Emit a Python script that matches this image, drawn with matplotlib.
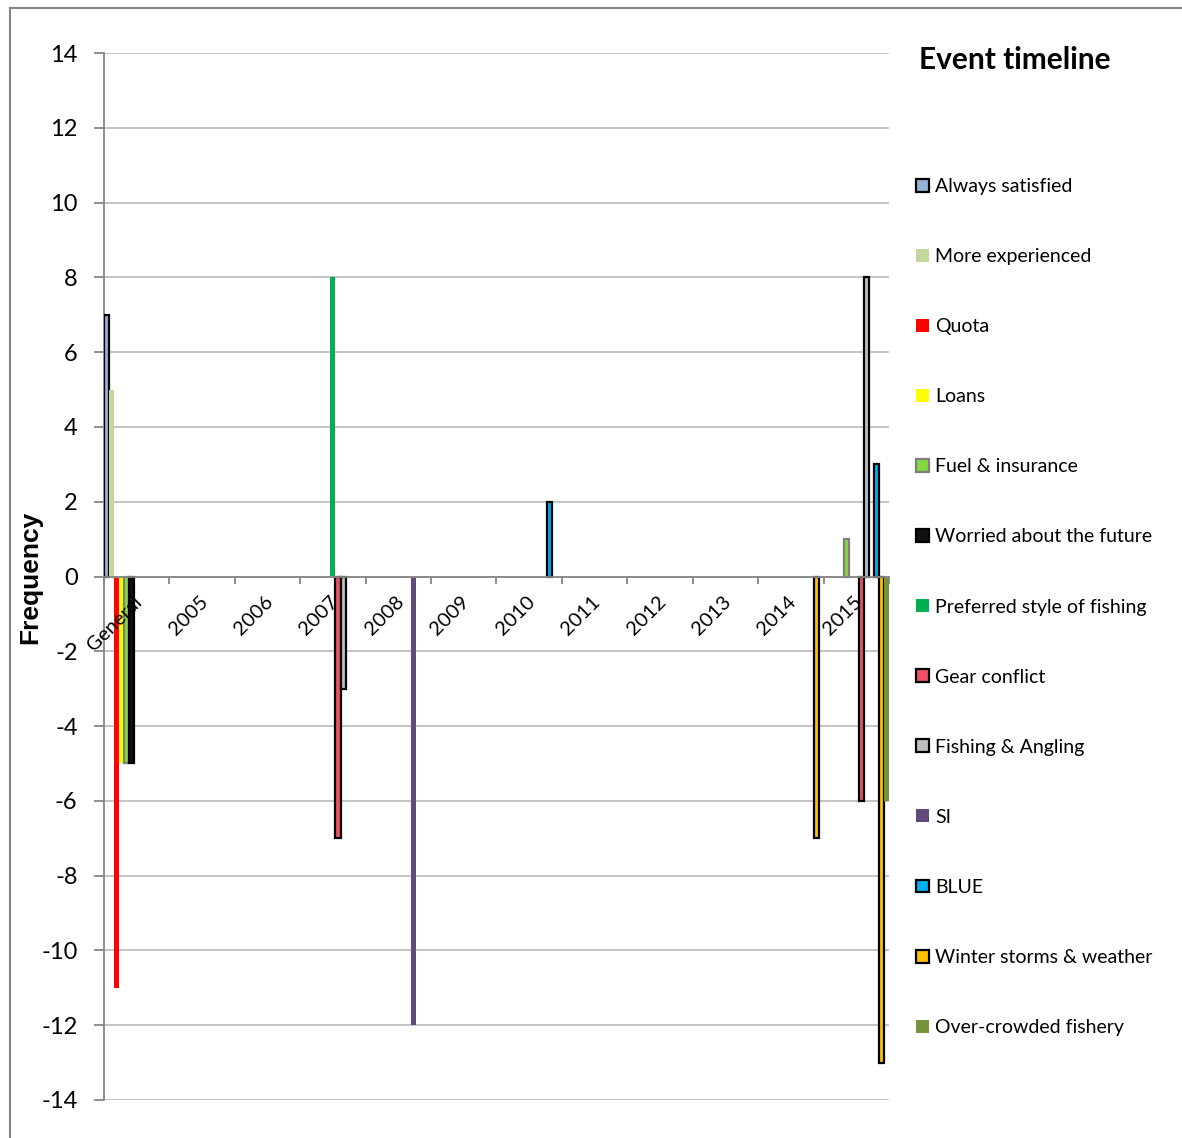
import numpy as np
import matplotlib
matplotlib.use("Agg")
import matplotlib.pyplot as plt
import matplotlib.transforms as mtransforms
from matplotlib.patches import Patch
from matplotlib.lines import Line2D

plt.rcParams['font.family'] = ['Lato', 'DejaVu Sans']

categories = ["General", "2005", "2006", "2007", "2008", "2009", "2010",
              "2011", "2012", "2013", "2014", "2015"]

always_satisfied   = [7, 0, 0, 0, 0, 0, 0, 0, 0, 0, 0, 0]
more_experienced   = [5, 0, 0, 0, 0, 0, 0, 0, 0, 0, 0, 0]
quota              = [-11, 0, 0, 0, 0, 0, 0, 0, 0, 0, 0, 0]
loans              = [-5, 0, 0, 0, 0, 0, 0, 0, 0, 0, 0, 0]
fuel_insurance     = [-5, 0, 0, 0, 0, 0, 0, 0, 0, 0, 0, 1]
worried_future     = [-5, 0, 0, 0, 0, 0, 0, 0, 0, 0, 0, 0]
preferred_style    = [0, 0, 0, 8, 0, 0, 0, 0, 0, 0, 0, 0]
gear_conflict      = [0, 0, 0, -7, 0, 0, 0, 0, 0, 0, 0, -6]
fishing_angling    = [0, 0, 0, -3, 0, 0, 0, 0, 0, 0, 0, 8]
si                 = [0, 0, 0, 0, -12, 0, 0, 0, 0, 0, 0, 0]
blue               = [0, 0, 0, 0, 0, 0, 2, 0, 0, 0, 0, 3]
winter_storms      = [0, 0, 0, 0, 0, 0, 0, 0, 0, 0, -7, -13]
over_crowded       = [0, 0, 0, 0, 0, 0, 0, 0, 0, 0, 0, -6]

series_names = ["Always satisfied", "More experienced", "Quota", "Loans",
                "Fuel & insurance", "Worried about the future",
                "Preferred style of fishing", "Gear conflict",
                "Fishing & Angling", "SI", "BLUE", "Winter storms & weather",
                "Over-crowded fishery"]
series_values = [always_satisfied, more_experienced, quota, loans,
                 fuel_insurance, worried_future, preferred_style,
                 gear_conflict, fishing_angling, si, blue, winter_storms,
                 over_crowded]
face_colors = ["#95B3D7", "#C3D69B", "#FF0000", "#FFFF00", "#84D93F",
               "#111111", "#00B050", "#EE5068", "#BFBFBF", "#604A7B",
               "#00B0F0", "#FFC000", "#77933C"]
edge_colors = ["#000000", None, None, None, "#7F7F7F", "#000000", None,
               "#000000", "#000000", None, "#000000", "#000000", None]

y_ticks = list(range(-14, 15, 2))

W, H = 1182, 1138
fig = plt.figure(figsize=(W / 100, H / 100), dpi=100)
ax = fig.add_axes([104 / W, 1 - 1100 / H, (889 - 104) / W, (1100 - 53) / H])

n = len(series_names)
bw = 1.0 / n
x = np.arange(len(categories))
for i, (vals, fc, ec) in enumerate(zip(series_values, face_colors, edge_colors)):
    vals = np.asarray(vals, dtype=float)
    mask = vals != 0
    xs = x[mask] - 0.5 + (i + 0.5) * bw
    ax.bar(xs, vals[mask], width=bw, color=fc,
           edgecolor=ec if ec else fc, linewidth=1.6 if ec else 0,
           zorder=3)

ax.set_xlim(-0.5, len(categories) - 0.5)
ax.set_ylim(-14, 14)
ax.set_yticks(y_ticks)
ax.set_yticklabels([str(v) if v >= 0 else "-" + str(-v) for v in y_ticks])
ax.yaxis.grid(True, color="#BFBFBF", linewidth=1.3, zorder=0)
ax.set_axisbelow(True)

for s in ["top", "right"]:
    ax.spines[s].set_visible(False)
ax.spines["left"].set_color("#868686")
ax.spines["left"].set_linewidth(1.3)
ax.spines["bottom"].set_position(("data", 0))
ax.spines["bottom"].set_color("#868686")
ax.spines["bottom"].set_linewidth(1.3)
ax.spines["bottom"].set_zorder(4)

ax.tick_params(axis="y", direction="out", length=7, width=1.3,
               color="#868686", labelsize=17, pad=12)
ax.set_xticks(np.arange(-0.5, len(categories), 1.0))
ax.set_xticklabels([])
ax.tick_params(axis="x", direction="out", length=5, width=1.3,
               color="#868686")

label_tr = mtransforms.offset_copy(ax.transData, fig=fig, x=2, y=-16,
                                   units="points")
for xi, cat in zip(x, categories):
    ax.text(xi, 0, cat, transform=label_tr, rotation=45, ha="right",
            va="center", rotation_mode="anchor", fontsize=14.5, zorder=6,
            clip_on=False)

fig.text(30 / W, 1 - 577 / H, "Frequency", rotation=90, fontsize=19,
         fontweight="bold", ha="center", va="center",
         family=["Liberation Sans", "DejaVu Sans"])
fig.text(919 / W, 1 - 60 / H, "Event timeline", fontsize=21.5,
         fontweight="bold", ha="left", va="center")

handles = [Patch(facecolor=fc, edgecolor=ec if ec else fc,
                 linewidth=1.6 if ec else 0)
           for fc, ec in zip(face_colors, edge_colors)]
fig.legend(handles, series_names, loc="upper left",
           bbox_to_anchor=(916 / W, 1 - 178 / H), frameon=False,
           fontsize=14, handlelength=0.65, handleheight=0.65,
           handletextpad=0.35, labelspacing=2.73, borderaxespad=0,
           borderpad=0)

fig.add_artist(Line2D([10 / W, 10 / W], [0, 1 - 8 / H], color="#868686",
                      linewidth=1.5, transform=fig.transFigure))
fig.add_artist(Line2D([10 / W, 1], [1 - 8 / H, 1 - 8 / H], color="#868686",
                      linewidth=1.5, transform=fig.transFigure))

fig.savefig("out.png", dpi=100)
